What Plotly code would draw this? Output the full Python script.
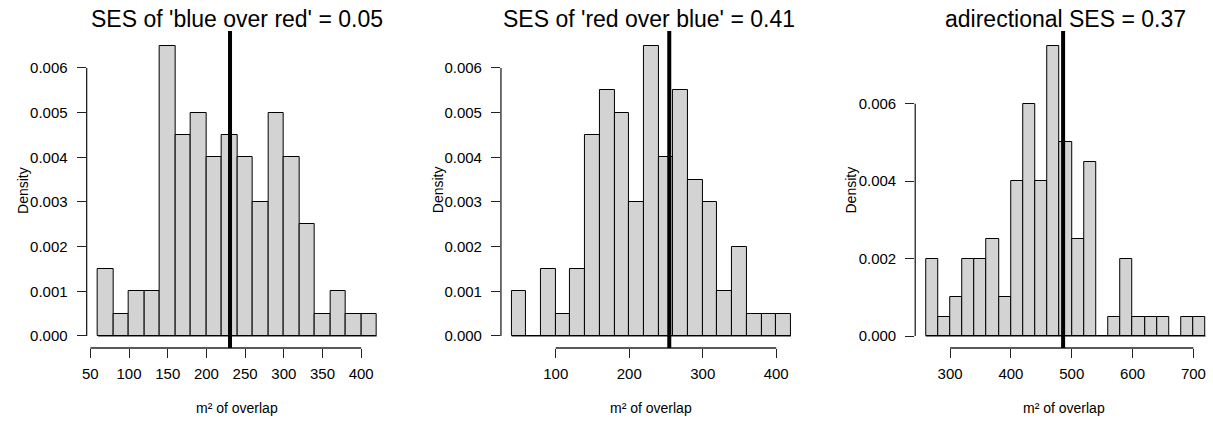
import plotly.graph_objects as go

# ---------------- data ----------------
bin_width = 20

p1_title = "SES of 'blue over red' = 0.05"
p1_start = 60
p1_density = [0.0015, 0.0005, 0.001, 0.001, 0.0065, 0.0045, 0.005, 0.004, 0.0045,
              0.004, 0.003, 0.005, 0.004, 0.0025, 0.0005, 0.001, 0.0005, 0.0005]
p1_observed = 230.5
p1_xticks = [50, 100, 150, 200, 250, 300, 350, 400]
p1_yticks = [0.000, 0.001, 0.002, 0.003, 0.004, 0.005, 0.006]

p2_title = "SES of 'red over blue' = 0.41"
p2_start = 40
p2_density = [0.001, 0.0, 0.0015, 0.0005, 0.0015, 0.0045, 0.0055, 0.005, 0.003, 0.0065,
              0.004, 0.0055, 0.0035, 0.003, 0.001, 0.002, 0.0005, 0.0005, 0.0005]
p2_observed = 254.5
p2_xticks = [100, 200, 300, 400]
p2_yticks = [0.000, 0.001, 0.002, 0.003, 0.004, 0.005, 0.006]

p3_title = "adirectional SES = 0.37"
p3_start = 260
p3_density = [0.002, 0.0005, 0.001, 0.002, 0.002, 0.0025, 0.001, 0.004, 0.006, 0.004,
              0.0075, 0.005, 0.0025, 0.0045, 0.0, 0.0005, 0.002, 0.0005, 0.0005, 0.0005,
              0.0, 0.0005, 0.0005]
p3_observed = 485.8
p3_xticks = [300, 400, 500, 600, 700]
p3_yticks = [0.000, 0.002, 0.004, 0.006]

x_label = "m\u00b2 of overlap"
y_label = "Density"

# ---------------- layout geometry (pixels) ----------------
W, H = 1213, 423
FONT = "Liberation Sans, Arial, Helvetica, sans-serif"
TICK_SIZE = 15
panels = [
    dict(title=p1_title, start=p1_start, dens=p1_density, obs=p1_observed,
         xt=p1_xticks, yt=p1_yticks, dom=(82, 384), xr=(45.24, 433.9),
         yr=(-0.000269, 0.006828), title_cx=232.5, ylab_x=18),
    dict(title=p2_title, start=p2_start, dens=p2_density, obs=p2_observed,
         xt=p2_xticks, yt=p2_yticks, dom=(498, 800), xr=(25.47, 434.7),
         yr=(-0.000269, 0.006828), title_cx=647, ylab_x=435),
    dict(title=p3_title, start=p3_start, dens=p3_density, obs=p3_observed,
         xt=p3_xticks, yt=p3_yticks, dom=(914, 1213), xr=(242.7, 732.2),
         yr=(-0.00031, 0.007877), title_cx=1065, ylab_x=850),
]
plot_top, plot_bot = 31, 348
ydom = [(H - plot_bot) / H, (H - plot_top) / H]

fig = go.Figure()
shapes = []
annotations = []
layout = {}

for i, p in enumerate(panels, start=1):
    sfx = "" if i == 1 else str(i)
    xa, ya = "x" + sfx, "y" + sfx
    n = len(p["dens"])
    edges = [p["start"] + k * bin_width for k in range(n + 1)]
    centers = [(edges[k] + edges[k + 1]) / 2 for k in range(n)]

    fig.add_trace(go.Bar(
        x=centers, y=p["dens"], width=[bin_width] * n,
        marker=dict(color="#D3D3D3", line=dict(color="black", width=1)),
        xaxis=xa, yaxis=ya, showlegend=False, hoverinfo="skip"))

    # histogram baseline (R also draws the zero-height bins)
    shapes.append(dict(type="line", xref=xa, yref=ya, x0=edges[0], x1=edges[-1],
                       y0=0, y1=0, line=dict(color="black", width=1)))
    # R-style axis lines spanning only the tick range
    shapes.append(dict(type="line", xref=xa, yref=ya + " domain",
                       x0=min(p["xt"]), x1=max(p["xt"]), y0=0, y1=0,
                       line=dict(color="#222", width=1.3)))
    shapes.append(dict(type="line", xref=xa + " domain", yref=ya,
                       x0=0, x1=0, y0=min(p["yt"]), y1=max(p["yt"]),
                       line=dict(color="#222", width=1.3)))
    # observed value line
    shapes.append(dict(type="line", xref=xa, yref=ya + " domain",
                       x0=p["obs"], x1=p["obs"], y0=0, y1=1,
                       line=dict(color="black", width=4)))

    layout["xaxis" + sfx] = dict(
        domain=[p["dom"][0] / W, p["dom"][1] / W], range=list(p["xr"]), anchor=ya,
        showgrid=False, zeroline=False, showline=False,
        ticks="outside", ticklen=9, tickwidth=1.3, tickcolor="#222",
        tickvals=p["xt"], ticktext=[str(v) for v in p["xt"]],
        tickfont=dict(family=FONT, size=TICK_SIZE, color="black"),
        ticklabelstandoff=3, fixedrange=True)
    layout["yaxis" + sfx] = dict(
        domain=ydom, range=list(p["yr"]), anchor=xa,
        showgrid=False, zeroline=False, showline=False,
        ticks="outside", ticklen=9, tickwidth=1.3, tickcolor="#222",
        tickvals=p["yt"], ticktext=[f"{v:.3f}" for v in p["yt"]],
        tickfont=dict(family=FONT, size=TICK_SIZE, color="black"),
        ticklabelstandoff=6, fixedrange=True)

    cx = (p["dom"][0] + p["dom"][1]) / 2
    annotations.append(dict(text=p["title"], xref="paper", yref="paper",
                            x=p["title_cx"] / W, y=1 - 19 / H, xanchor="center",
                            yanchor="middle", showarrow=False,
                            font=dict(family=FONT, size=23, color="black")))
    annotations.append(dict(text=x_label, xref="paper", yref="paper",
                            x=cx / W, y=1 - 408 / H, xanchor="center",
                            yanchor="middle", showarrow=False,
                            font=dict(family=FONT, size=14, color="black")))
    annotations.append(dict(text=y_label, xref="paper", yref="paper",
                            x=p["ylab_x"] / W, y=1 - 190 / H, xanchor="center",
                            yanchor="middle", showarrow=False, textangle=-90,
                            font=dict(family=FONT, size=14, color="black")))

fig.update_layout(
    width=W, height=H, margin=dict(l=0, r=0, t=0, b=0),
    paper_bgcolor="white", plot_bgcolor="white",
    bargap=0, barmode="overlay", shapes=shapes, annotations=annotations,
    hovermode=False, **layout)

fig.write_html("out.html", config={"displayModeBar": False})
